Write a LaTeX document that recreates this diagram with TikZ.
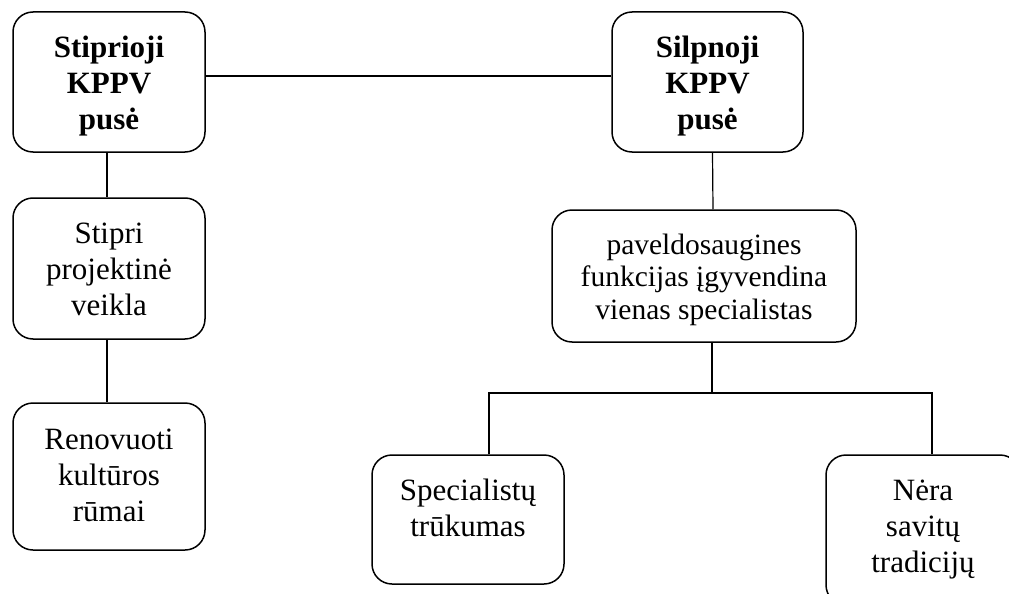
\documentclass[tikz,border=0pt]{standalone}
\usepackage{fontspec}
\setmainfont{Liberation Serif}
\begin{document}
\begin{tikzpicture}[x=1pt,y=-1pt,
  box/.style={draw, line width=1.5pt, rounded corners=20pt, inner sep=0pt},
  txt/.style={anchor=north, align=center, inner sep=0pt, font=\fontsize{31}{36}\selectfont},
  smalltxt/.style={txt, font=\fontsize{29.5}{32.5}\selectfont},
  conn/.style={line width=1.2pt}]
\clip (0,0) rectangle (1009,594);
\fill[white] (0,0) rectangle (1009,594);

% boxes
\node[box, minimum width=192pt, minimum height=140pt] (b1) at (109,82) {};
\node[box, minimum width=191pt, minimum height=140pt] (b2) at (707.5,82) {};
\node[box, minimum width=192pt, minimum height=141pt] (b3) at (109,268.5) {};
\node[box, minimum width=192pt, minimum height=147pt] (b4) at (109,476.5) {};
\node[box, minimum width=304pt, minimum height=132pt] (b5) at (704,276) {};
\node[box, minimum width=192pt, minimum height=129pt] (b6) at (468,519.5) {};
\node[box, minimum width=194pt, minimum height=150pt] (b7) at (923,530) {};

% texts, first baseline a fixed distance below each box top
\node[txt] (t1) at ([yshift=-21pt]b1.north) {\rule{0pt}{25pt}\textbf{Stiprioji}\\\textbf{KPPV}\\\textbf{pusė}};
\node[txt] (t2) at ([yshift=-21pt]b2.north) {\rule{0pt}{25pt}\textbf{Silpnoji}\\\textbf{KPPV}\\\textbf{pusė}};
\node[txt] (t3) at ([yshift=-21pt]b3.north) {\rule{0pt}{25pt}Stipri\\projektinė\\veikla};
\node[txt] (t4) at ([yshift=-22pt]b4.north) {\rule{0pt}{25pt}Renovuoti\\kultūros\\rūmai};
\node[smalltxt] (t5) at ([yshift=-20pt]b5.north) {\rule{0pt}{25pt}paveldosaugines\\funkcijas įgyvendina\\vienas specialistas};
\node[txt] (t6) at ([yshift=-21pt]b6.north) {\rule{0pt}{25pt}Specialistų\\trūkumas};
\node[txt] (t7) at ([yshift=-21pt]b7.north) {\rule{0pt}{25pt}Nėra\\savitų\\tradicijų};

% connectors
\coordinate (j) at (712,393);
\coordinate (jl) at (489,393);
\coordinate (jr) at (932,393);
\draw[conn] ([yshift=6pt]b1.east) -- ([yshift=6pt]b2.west);
\draw[conn] ([xshift=-2pt]b1.south) -- ([xshift=-2pt]b3.north);
\draw[conn] ([xshift=-2pt]b3.south) -- ([xshift=-2pt]b4.north);
\draw[conn] ([xshift=5pt]b2.south) -- ([xshift=9pt]b5.north);
\draw[conn] (b5.south -| j) -- (j);
\draw[conn] (b6.north -| jl) -- (jl) -- (jr) -- (b7.north -| jr);
\end{tikzpicture}
\end{document}
